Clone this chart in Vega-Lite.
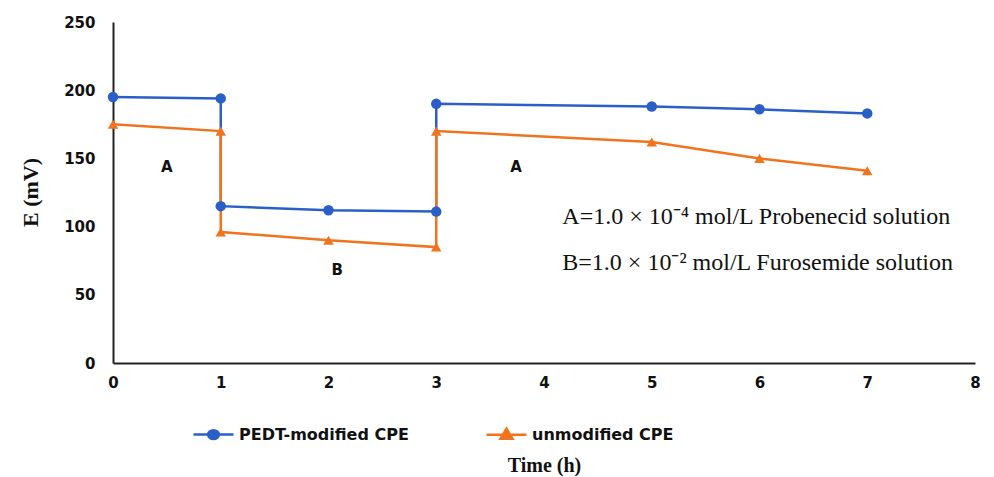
{
  "$schema": "https://vega.github.io/schema/vega-lite/v6.json",
  "autosize": {"type": "none"},
  "padding": {"left": 113, "top": 22, "right": 19, "bottom": 114},
  "width": 862,
  "height": 341,
  "background": "white",
  "config": {"view": {"stroke": null}},
  "datasets": {
    "series": [
      {"series": "PEDT-modified CPE", "seq": 1, "t": 0, "E": 195},
      {"series": "PEDT-modified CPE", "seq": 2, "t": 1, "E": 194},
      {"series": "PEDT-modified CPE", "seq": 3, "t": 1, "E": 115},
      {"series": "PEDT-modified CPE", "seq": 4, "t": 2, "E": 112},
      {"series": "PEDT-modified CPE", "seq": 5, "t": 3, "E": 111},
      {"series": "PEDT-modified CPE", "seq": 6, "t": 3, "E": 190},
      {"series": "PEDT-modified CPE", "seq": 7, "t": 5, "E": 188},
      {"series": "PEDT-modified CPE", "seq": 8, "t": 6, "E": 186},
      {"series": "PEDT-modified CPE", "seq": 9, "t": 7, "E": 183},
      {"series": "unmodified CPE", "seq": 1, "t": 0, "E": 175},
      {"series": "unmodified CPE", "seq": 2, "t": 1, "E": 170},
      {"series": "unmodified CPE", "seq": 3, "t": 1, "E": 96},
      {"series": "unmodified CPE", "seq": 4, "t": 2, "E": 90},
      {"series": "unmodified CPE", "seq": 5, "t": 3, "E": 85},
      {"series": "unmodified CPE", "seq": 6, "t": 3, "E": 170},
      {"series": "unmodified CPE", "seq": 7, "t": 5, "E": 162},
      {"series": "unmodified CPE", "seq": 8, "t": 6, "E": 150},
      {"series": "unmodified CPE", "seq": 9, "t": 7, "E": 141}
    ],
    "labels": [
      {"t": 0.5, "E": 144, "text": "A"},
      {"t": 2.08, "E": 68, "text": "B"},
      {"t": 3.74, "E": 144, "text": "A"}
    ],
    "notes": [
      {"t": 4.17, "E": 107, "text": "A=1.0 × 10⁻⁴ mol/L Probenecid  solution"},
      {"t": 4.17, "E": 73, "text": "B=1.0 × 10⁻² mol/L Furosemide solution"}
    ]
  },
  "layer": [
    {
      "data": {"name": "series"},
      "mark": {"type": "line", "strokeWidth": 2.5},
      "encoding": {
        "x": {"field": "t", "type": "quantitative", "scale": {"domain": [0, 8], "nice": false},
          "axis": {"values": [0,1,2,3,4,5,6,7,8], "format": "d", "labelFlush": false, "labelOverlap": false, "grid": false, "ticks": false, "domainColor": "#222", "domainWidth": 2,
            "labelFont": "DejaVu Sans", "labelFontWeight": "bold", "labelFontSize": 15, "labelColor": "#111", "labelPadding": 12,
            "title": "Time (h)", "titleFont": "Liberation Serif", "titleFontSize": 20, "titleFontWeight": "bold", "titleColor": "#111",
            "titleY": 102, "titleBaseline": "middle"}},
        "y": {"field": "E", "type": "quantitative", "scale": {"domain": [0, 250], "nice": false},
          "axis": {"values": [0,50,100,150,200,250], "format": "d", "labelFlush": false, "labelOverlap": false, "grid": false, "ticks": false, "domainColor": "#222", "domainWidth": 2,
            "labelFont": "DejaVu Sans", "labelFontWeight": "bold", "labelFontSize": 15, "labelColor": "#111", "labelPadding": 18,
            "title": "E (mV)", "titleFont": "Liberation Serif", "titleFontSize": 22, "titleFontWeight": "bold", "titleColor": "#111",
            "titleX": -83, "titleY": 170, "titleBaseline": "middle", "titleAlign": "center", "titleAngle": -90}},
        "color": {"field": "series", "type": "nominal",
          "scale": {"domain": ["PEDT-modified CPE", "unmodified CPE"], "range": ["#2B5FC8", "#F0731E"]},
          "legend": {"title": null, "orient": "none", "direction": "horizontal", "legendX": 79, "legendY": 391,
            "symbolSize": 1600, "symbolStrokeWidth": 2.5, "labelOffset": 4, "columnPadding": 72, "labelLimit": 300,
            "labelFont": "DejaVu Sans", "labelFontWeight": "bold", "labelFontSize": 16, "labelColor": "#111",
            "encode": {"symbols": {"update": {
              "shape": {"signal": "datum.value == 'PEDT-modified CPE' ? 'M-1,0L1,0M0.27,0A0.27,0.22,0,1,1,-0.27,0A0.27,0.22,0,1,1,0.27,0' : 'M-1,0L1,0M0,-0.3L0.3,0.2L-0.3,0.2Z'"},
              "fill": {"signal": "datum.value == 'PEDT-modified CPE' ? '#2B5FC8' : '#F0731E'"},
              "stroke": {"signal": "datum.value == 'PEDT-modified CPE' ? '#2B5FC8' : '#F0731E'"},
              "opacity": {"value": 1}
            }}}}},
        "order": {"field": "seq", "type": "quantitative"}
      }
    },
    {
      "data": {"name": "series"},
      "transform": [{"filter": "datum.series == 'PEDT-modified CPE'"}],
      "mark": {"type": "point", "filled": true, "opacity": 1, "size": 110, "shape": "circle", "color": "#2B5FC8"},
      "encoding": {
        "x": {"field": "t", "type": "quantitative"},
        "y": {"field": "E", "type": "quantitative"}
      }
    },
    {
      "data": {"name": "series"},
      "transform": [{"filter": "datum.series == 'unmodified CPE'"}],
      "mark": {"type": "point", "filled": true, "opacity": 1, "size": 110, "shape": "triangle-up", "color": "#F0731E"},
      "encoding": {
        "x": {"field": "t", "type": "quantitative"},
        "y": {"field": "E", "type": "quantitative"}
      }
    },
    {
      "data": {"name": "labels"},
      "mark": {"type": "text", "font": "DejaVu Sans", "fontWeight": "bold", "fontSize": 15, "color": "#111", "align": "center", "baseline": "middle"},
      "encoding": {
        "x": {"field": "t", "type": "quantitative"},
        "y": {"field": "E", "type": "quantitative"},
        "text": {"field": "text"}
      }
    },
    {
      "data": {"name": "notes"},
      "mark": {"type": "text", "font": "Liberation Serif", "fontSize": 24, "color": "#111", "align": "left", "baseline": "middle"},
      "encoding": {
        "x": {"field": "t", "type": "quantitative"},
        "y": {"field": "E", "type": "quantitative"},
        "text": {"field": "text"}
      }
    }
  ]
}
